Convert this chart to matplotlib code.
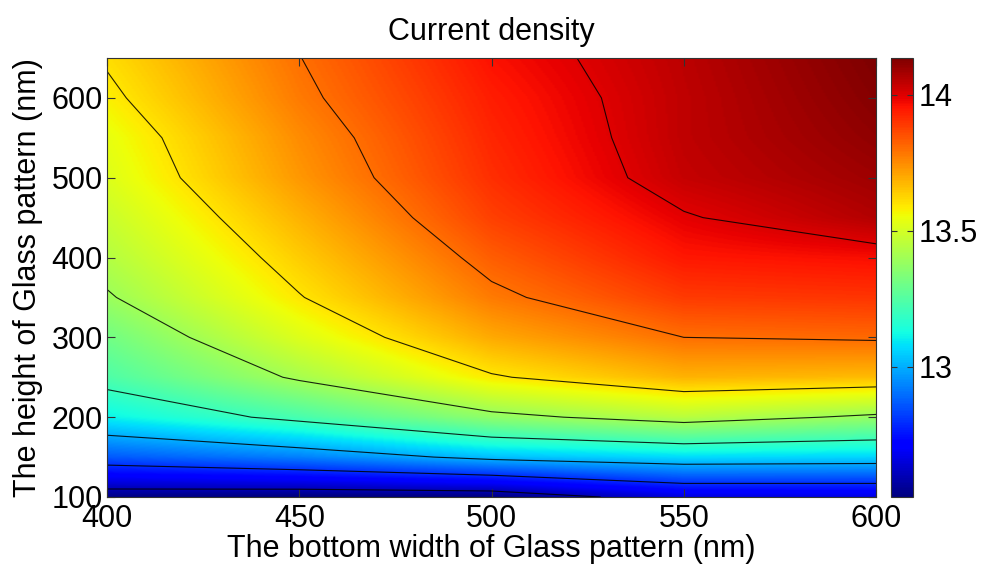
import numpy as np
import matplotlib
matplotlib.use("Agg")
import matplotlib.pyplot as plt

# Grid of the simulation: bottom width (x) and height (y) of the glass pattern, in nm
widths = [400, 450, 500, 550, 600]
heights = [100, 150, 200, 250, 300, 350, 400, 450, 500, 550, 600, 650]

# Current density for each bottom width, listed from height 100 nm up to 650 nm
density_w400 = [12.533, 12.867, 13.11, 13.24, 13.31, 13.39, 13.44, 13.48, 13.52, 13.54, 13.58, 13.61]
density_w450 = [12.52, 12.93, 13.23, 13.415, 13.52, 13.595, 13.64, 13.685, 13.73, 13.75, 13.78, 13.798]
density_w500 = [12.524, 13.03, 13.37, 13.59, 13.70, 13.78, 13.83, 13.88, 13.91, 13.925, 13.94, 13.96]
density_w550 = [12.658, 13.075, 13.45, 13.684, 13.80, 13.89, 13.95, 13.993, 14.037, 14.045, 14.045, 14.05]
density_w600 = [12.664, 13.064, 13.38, 13.67, 13.811, 13.90, 13.967, 14.063, 14.09, 14.11, 14.125, 14.136]

contour_levels = [12.6, 12.8, 13.0, 13.2, 13.4, 13.6, 13.8, 14.0]
x_ticks = [400, 450, 500, 550, 600]
y_ticks = [100, 200, 300, 400, 500, 600]
cbar_ticks = [13, 13.5, 14]
cbar_labels = ["13", "13.5", "14"]

plt.rcParams["font.family"] = ["Liberation Sans", "DejaVu Sans"]

Z = np.column_stack([density_w400, density_w450, density_w500,
                     density_w550, density_w600])
x = np.array(widths, dtype=float)
y = np.array(heights, dtype=float)

# Smooth (bilinear) shading of the coarse grid
xf = np.linspace(x.min(), x.max(), 401)
yf = np.linspace(y.min(), y.max(), 551)
Zx = np.array([np.interp(xf, x, row) for row in Z])
Zf = np.array([np.interp(yf, y, Zx[:, k]) for k in range(Zx.shape[1])]).T

fig = plt.figure(figsize=(9.83, 5.68), dpi=100)
ax = fig.add_axes([0.1089, 0.125, 0.7823, 0.7729])
cax = fig.add_axes([0.9064, 0.125, 0.0224, 0.7729])

vmin, vmax = Z.min(), Z.max()
im = ax.imshow(Zf, origin="lower", extent=[x.min(), x.max(), y.min(), y.max()],
               aspect="auto", cmap="jet", vmin=vmin, vmax=vmax,
               interpolation="bilinear")
ax.contour(x, y, Z, levels=contour_levels, colors="k", linewidths=0.8, alpha=0.85)

ax.set_xlim(x.min(), x.max())
ax.set_ylim(y.min(), y.max())
ax.set_xticks(x_ticks)
ax.set_yticks(y_ticks)
ax.tick_params(direction="in", length=6, width=0.8, color="#333333",
               top=True, right=True, labelsize=22)
ax.tick_params(axis="x", pad=5)
ax.tick_params(axis="y", pad=3)
for sp in ax.spines.values():
    sp.set_color("#333333")
    sp.set_linewidth(0.8)

ax.set_title("Current density", fontsize=22, pad=13)
ax.set_xlabel("The bottom width of Glass pattern (nm)", fontsize=22, labelpad=0)
ax.set_ylabel("The height of Glass pattern (nm)", fontsize=22)
ax.yaxis.set_label_coords(-0.083, 0.5)

cb = fig.colorbar(im, cax=cax, ticks=cbar_ticks)
cb.set_ticklabels(cbar_labels)
cb.ax.tick_params(direction="in", length=4, width=0.8, color="#333333",
                  left=True, right=True, labelsize=22, pad=4)
cb.outline.set_edgecolor("#333333")
cb.outline.set_linewidth(0.8)

fig.savefig("out.png", dpi=100)
